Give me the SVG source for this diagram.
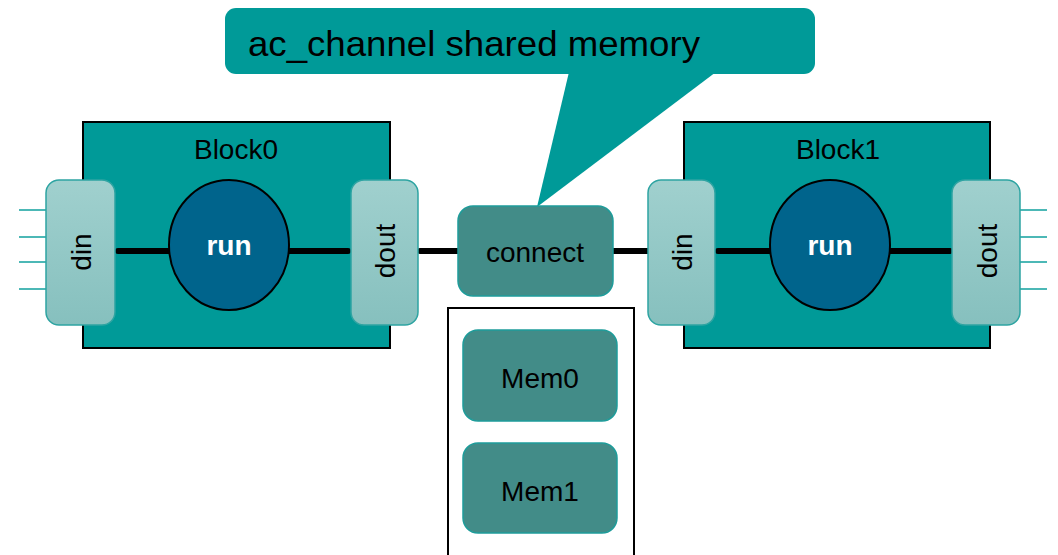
<svg xmlns="http://www.w3.org/2000/svg" width="1058" height="555" viewBox="0 0 1058 555">
<defs>
<linearGradient id="portGrad" x1="0" y1="0" x2="0" y2="1">
<stop offset="0" stop-color="#a0d0ce"/>
<stop offset="1" stop-color="#86c0be"/>
</linearGradient>
<style>
text{font-family:"Liberation Sans",Arial,sans-serif;fill:#000}
.block{fill:#009a98;stroke:#000;stroke-width:2}
.port{fill:url(#portGrad);stroke:#2ea4a2;stroke-width:1.5}
.pin{stroke:#4cb8b6;stroke-width:2}
.run{fill:#00648c;stroke:#000;stroke-width:2}
.runtxt{fill:#fff;font-weight:bold;font-size:28px;text-anchor:middle}
.lbl{font-size:28px;text-anchor:middle}
.mem{fill:#428c88;stroke:#1e9c9a;stroke-width:1.5}
.wire{stroke:#000;stroke-width:6;stroke-linecap:round;fill:none}
.callout{fill:#009a98}
</style>
</defs>
<rect width="1058" height="555" fill="#fff"/>

<g id="callout">
<rect class="callout" x="225" y="8" width="590" height="66" rx="11"/>
<polygon class="callout" points="569,72 716,72 537,207"/>
<text x="248" y="56" font-size="35" textLength="452" lengthAdjust="spacingAndGlyphs">ac_channel shared memory</text>
</g>

<g id="memory">
<rect x="448" y="308" width="186" height="262" fill="#fff" stroke="#000" stroke-width="2"/>
</g>

<g id="block0">
<rect class="block" x="83" y="122" width="307" height="226"/>
<text class="lbl" x="236" y="159">Block0</text>
</g>
<g id="block1">
<rect class="block" x="684" y="122" width="306" height="226"/>
<text class="lbl" x="838" y="159">Block1</text>
</g>

<g id="connectors">
<line class="pin" x1="19" y1="210" x2="46" y2="210"/>
<line class="pin" x1="19" y1="237" x2="46" y2="237"/>
<line class="pin" x1="19" y1="262" x2="46" y2="262"/>
<line class="pin" x1="19" y1="289" x2="46" y2="289"/>
<line class="pin" x1="1020" y1="210" x2="1047" y2="210"/>
<line class="pin" x1="1020" y1="237" x2="1047" y2="237"/>
<line class="pin" x1="1020" y1="262" x2="1047" y2="262"/>
<line class="pin" x1="1020" y1="289" x2="1047" y2="289"/>
<line class="wire" x1="118" y1="251" x2="170" y2="251"/>
<line class="wire" x1="288" y1="251" x2="348" y2="251"/>
<line class="wire" x1="420" y1="251" x2="460" y2="251"/>
<line class="wire" x1="611" y1="251" x2="650" y2="251"/>
<line class="wire" x1="718" y1="251" x2="771" y2="251"/>
<line class="wire" x1="889" y1="251" x2="950" y2="251"/>
</g>

<g id="din0">
<rect class="port" x="46" y="180" width="69" height="145" rx="13"/>
<text class="lbl" transform="translate(91,252) rotate(-90)">din</text>
</g>
<g id="run0">
<ellipse class="run" cx="229" cy="245" rx="60" ry="65"/>
<text class="runtxt" x="229" y="255">run</text>
</g>
<g id="dout0">
<rect class="port" x="351" y="180" width="67" height="145" rx="13"/>
<text class="lbl" transform="translate(395,251) rotate(-90)">dout</text>
</g>

<g id="connect">
<rect class="mem" x="458" y="206" width="155" height="90" rx="15"/>
<text class="lbl" x="535" y="262">connect</text>
</g>

<g id="mem0">
<rect class="mem" x="463" y="330" width="154" height="91" rx="15"/>
<text class="lbl" x="540" y="388">Mem0</text>
</g>
<g id="mem1">
<rect class="mem" x="463" y="443" width="154" height="90" rx="15"/>
<text class="lbl" x="540" y="501">Mem1</text>
</g>

<g id="din1">
<rect class="port" x="648" y="180" width="67" height="145" rx="13"/>
<text class="lbl" transform="translate(692,252) rotate(-90)">din</text>
</g>
<g id="run1">
<ellipse class="run" cx="830" cy="245" rx="60" ry="65"/>
<text class="runtxt" x="830" y="255">run</text>
</g>
<g id="dout1">
<rect class="port" x="952" y="180" width="68" height="145" rx="13"/>
<text class="lbl" transform="translate(997,251) rotate(-90)">dout</text>
</g>
</svg>
